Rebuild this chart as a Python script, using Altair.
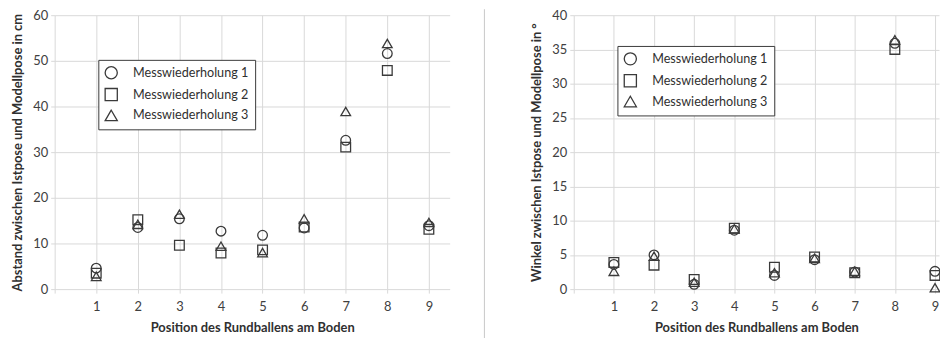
import altair as alt
import pandas as pd

positions = [1, 2, 3, 4, 5, 6, 7, 8, 9]
series_names = ["Messwiederholung 1", "Messwiederholung 2", "Messwiederholung 3"]

# Left: Abstand in cm
dist_m1 = [4.6, 13.5, 15.4, 12.7, 11.8, 13.4, 32.6, 51.6, 13.9]
dist_m2 = [3.5, 15.2, 9.6, 7.9, 8.6, 13.6, 31.1, 47.9, 13.1]
dist_m3 = [2.8, 14.2, 16.4, 9.4, 8.0, 15.4, 38.9, 53.8, 14.6]

# Right: Winkel in Grad
ang_m1 = [3.6, 5.0, 0.7, 8.6, 2.0, 4.3, 2.5, 35.9, 2.6]
ang_m2 = [3.9, 3.5, 1.4, 8.9, 3.2, 4.7, 2.4, 35.0, 2.0]
ang_m3 = [2.6, 4.8, 1.0, 8.8, 2.4, 4.5, 2.6, 36.4, 0.2]

y_ticks_left = [0, 10, 20, 30, 40, 50, 60]
y_ticks_right = [0, 5, 10, 15, 20, 25, 30, 35, 40]
x_ticks = [0, 1, 2, 3, 4, 5, 6, 7, 8, 9]

def make_df(a, b, c):
    rows = []
    for name, vals in zip(series_names, [a, b, c]):
        for p, v in zip(positions, vals):
            rows.append({"pos": p, "val": v, "serie": name})
    return pd.DataFrame(rows)

df_left = make_df(dist_m1, dist_m2, dist_m3)
df_right = make_df(ang_m1, ang_m2, ang_m3)

FONT = "Lato"
INK = "#3a3a3a"
GRID = "#d9d9d9"
H = 276

shape_scale = alt.Scale(domain=series_names, range=["circle", "square", "triangle-up"])


def panel(df, ymax, yticks, ytitle, width, xmax, lx, ly):
    x = alt.X("pos:Q", title="Position des Rundballens am Boden",
              scale=alt.Scale(domain=[0, xmax], nice=False, zero=False),
              axis=alt.Axis(values=x_ticks, labelExpr="datum.value == 0 ? '' : datum.label"))
    y = alt.Y("val:Q", title=ytitle,
              scale=alt.Scale(domain=[0, ymax], nice=False),
              axis=alt.Axis(values=yticks))
    pts = alt.Chart(df).mark_point(filled=False, size=95, strokeWidth=1.3,
                                   color=INK, opacity=1).encode(
        x=x, y=y,
        shape=alt.Shape("serie:N", scale=shape_scale,
                        legend=alt.Legend(title=None, orient="none", legendX=lx, legendY=ly,
                                          fillColor="white", strokeColor=INK,
                                          padding=6, symbolSize=150, symbolStrokeWidth=1.3,
                                          symbolStrokeColor=INK, labelFont=FONT,
                                          labelFontSize=12.7, labelColor="#303030",
                                          labelOffset=15, rowPadding=4)),
    )
    return pts.properties(width=width, height=H)


left = panel(df_left, 60, y_ticks_left,
             "Abstand zwischen Istpose und Modellpose in cm", 398, 9.5, 44, 45)

sep = alt.Chart(pd.DataFrame({"a": [0]})).mark_rule(color="#c8c8c8", strokeWidth=1).encode(
    x=alt.value(-90), y=alt.value(-6), y2=alt.value(H + 50))
right_pts = panel(df_right, 40, y_ticks_right,
                  "Winkel zwischen Istpose und Modellpose in °", 368, 9.1, 44, 31)
right = alt.layer(sep, right_pts).properties(width=368, height=H)

chart = alt.hconcat(left, right, spacing=125, bounds="flush").resolve_legend(
    shape="independent"
).properties(
    padding={"left": 3, "top": -1, "right": -3, "bottom": -3}
).configure_view(stroke=None).configure_axis(
    grid=True, gridColor=GRID, gridWidth=1, domain=False,
    tickColor=GRID, tickSize=4, tickWidth=1,
    labelFont=FONT, labelFontSize=13, labelColor="#404040", labelPadding=3,
    titleFont=FONT, titleFontSize=13, titleFontWeight="bold", titleColor="#303030",
).configure_axisX(titlePadding=8, labelPadding=8).configure_axisY(titlePadding=8)

chart.save("out.html", embed_options={"renderer": "svg", "actions": False})
